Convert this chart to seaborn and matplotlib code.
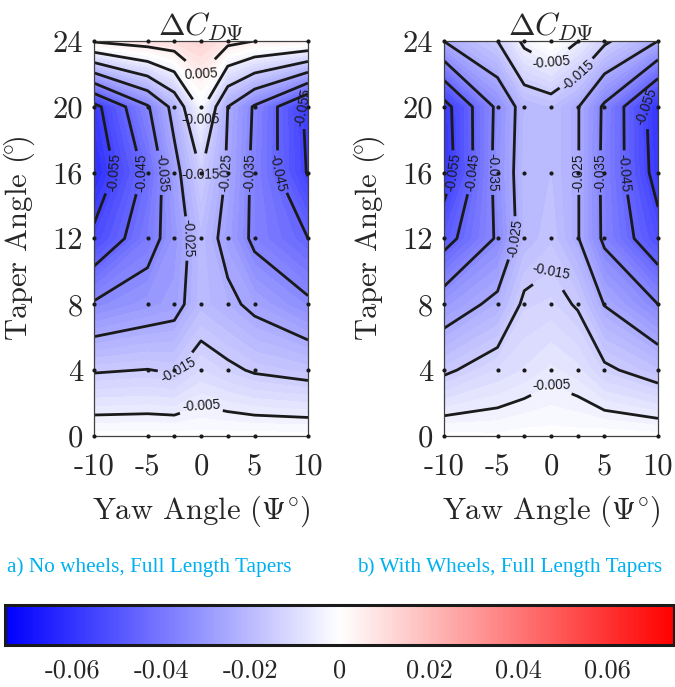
import numpy as np
import pandas as pd
import matplotlib
matplotlib.use("Agg")
import matplotlib.pyplot as plt
import seaborn as sns
from matplotlib.colors import LinearSegmentedColormap, Normalize
from matplotlib.cm import ScalarMappable

# grid of the tests
yaw = [-10, -5, -2.5, 0, 2.5, 5, 10]
taper = [0, 4, 8, 12, 16, 20, 24]

# delta C_D(psi), rows = taper angle (0..24), columns = yaw angle (-10..10)
dcd_no_wheels = [
    [0.0000, 0.0000, 0.0000, 0.0000, 0.0000, 0.0000, 0.0000],
    [-0.0157, -0.0148, -0.0158, -0.0110, -0.0135, -0.0158, -0.0178],
    [-0.0340, -0.0300, -0.0280, -0.0200, -0.0230, -0.0270, -0.0335],
    [-0.0530, -0.0390, -0.0305, -0.0200, -0.0280, -0.0370, -0.0450],
    [-0.0620, -0.0430, -0.0280, -0.0148, -0.0260, -0.0370, -0.0556],
    [-0.0580, -0.0360, -0.0220, -0.0026, -0.0250, -0.0360, -0.0570],
    [0.0060, 0.0090, 0.0100, 0.0125, 0.0074, 0.0050, 0.0040],
]
dcd_wheels = [
    [0.0000, -0.0006, 0.0000, 0.0000, 0.0000, 0.0005, 0.0000],
    [-0.0163, -0.0109, -0.0088, -0.0065, -0.0083, -0.0136, -0.0187],
    [-0.0300, -0.0228, -0.0135, -0.0125, -0.0157, -0.0253, -0.0350],
    [-0.0485, -0.0340, -0.0208, -0.0175, -0.0245, -0.0367, -0.0517],
    [-0.0600, -0.0322, -0.0202, -0.0190, -0.0245, -0.0370, -0.0586],
    [-0.0586, -0.0330, -0.0210, -0.0191, -0.0245, -0.0365, -0.0600],
    [-0.0248, -0.0150, -0.0030, 0.0020, -0.0048, -0.0135, -0.0250],
]

captions = ["a) No wheels, Full Length Tapers", "b) With Wheels, Full Length Tapers"]
line_levels = [-0.055, -0.045, -0.035, -0.025, -0.015, -0.005, 0.005]
x_ticks = [-10, -5, 0, 5, 10]
x_ticklabels = ["-10", "-5", "0", "5", "10"]
y_ticks = [0, 4, 8, 12, 16, 20, 24]
cbar_ticks = [-0.06, -0.04, -0.02, 0, 0.02, 0.04, 0.06]
cbar_ticklabels = ["-0.06", "-0.04", "-0.02", "0", "0.02", "0.04", "0.06"]
cmin, cmax = -0.075, 0.075

sns.set_theme(style="white")
plt.rcParams["font.family"] = ["cmr10"]
plt.rcParams["mathtext.fontset"] = "cm"
plt.rcParams["axes.unicode_minus"] = False
plt.rcParams["axes.formatter.use_mathtext"] = True
plt.rcParams["contour.negative_linestyle"] = "solid"

cmap = LinearSegmentedColormap.from_list("bwr_lin", ["#0000ff", "#ffffff", "#ff0000"])
fill_levels = np.linspace(cmin, cmax, 76)

fig = plt.figure(figsize=(6.75, 6.87), dpi=100)
ax_a = fig.add_axes([0.1393, 0.3654, 0.317, 0.575])
ax_b = fig.add_axes([0.6578, 0.3654, 0.317, 0.575])
cax = fig.add_axes([0.008, 0.061, 0.991, 0.058])

X, Y = np.meshgrid(yaw, taper)
grid = pd.DataFrame({"yaw": X.ravel(), "taper": Y.ravel()})

for ax, data in zip([ax_a, ax_b], [dcd_no_wheels, dcd_wheels]):
    Z = np.array(data)
    ax.contourf(X, Y, Z, levels=fill_levels, cmap=cmap, vmin=cmin, vmax=cmax)
    cs = ax.contour(X, Y, Z, levels=line_levels, colors="k", linewidths=2.0,
                    linestyles="solid")
    with plt.rc_context({"font.family": ["Liberation Sans"]}):
        ax.clabel(cs, fmt=lambda v: f"{v:g}", fontsize=9.8, inline=True, inline_spacing=3)
    sns.scatterplot(data=grid, x="yaw", y="taper", ax=ax, color="k", s=9,
                    linewidth=0, zorder=5, clip_on=False, legend=False)
    ax.set_xlim(-10, 10)
    ax.set_ylim(0, 24)
    ax.set_xticks(x_ticks)
    ax.set_xticklabels(x_ticklabels)
    ax.set_yticks(y_ticks)
    ax.set_yticklabels([str(t) for t in y_ticks])
    ax.tick_params(length=0, labelsize=22, colors="#262626")
    ax.tick_params(axis="x", pad=12)
    ax.tick_params(axis="y", pad=8)
    for sp in ax.spines.values():
        sp.set_color("#404040")
        sp.set_linewidth(0.9)
    ax.set_title(r"$\Delta C_{D\Psi}$", fontsize=23, pad=4)
    ax.set_xlabel(r"Yaw Angle $(\Psi^{\!\circ}\!)$", fontsize=22, labelpad=10, color="#262626")
    ax.set_ylabel(r"Taper Angle $(\!^{\circ}\!)$", fontsize=22, labelpad=11, color="#262626")

fig.text(0.01, 1 - 567 / 687, captions[0], family="Liberation Serif", fontsize=15.3,
         color="#00b0f0", va="center", ha="left")
fig.text(0.529, 1 - 567 / 687, captions[1], family="Liberation Serif", fontsize=15.3,
         color="#00b0f0", va="center", ha="left")

sm = ScalarMappable(norm=Normalize(cmin, cmax), cmap=cmap)
cb = fig.colorbar(sm, cax=cax, orientation="horizontal", ticks=cbar_ticks)
cb.set_ticklabels(cbar_ticklabels)
cb.outline.set_linewidth(2.2)
cb.outline.set_edgecolor("#1a1a1a")
cax.tick_params(direction="in", length=6, width=1.4, labelsize=19, pad=10,
                colors="#262626")

fig.savefig("out.png", dpi=100)
